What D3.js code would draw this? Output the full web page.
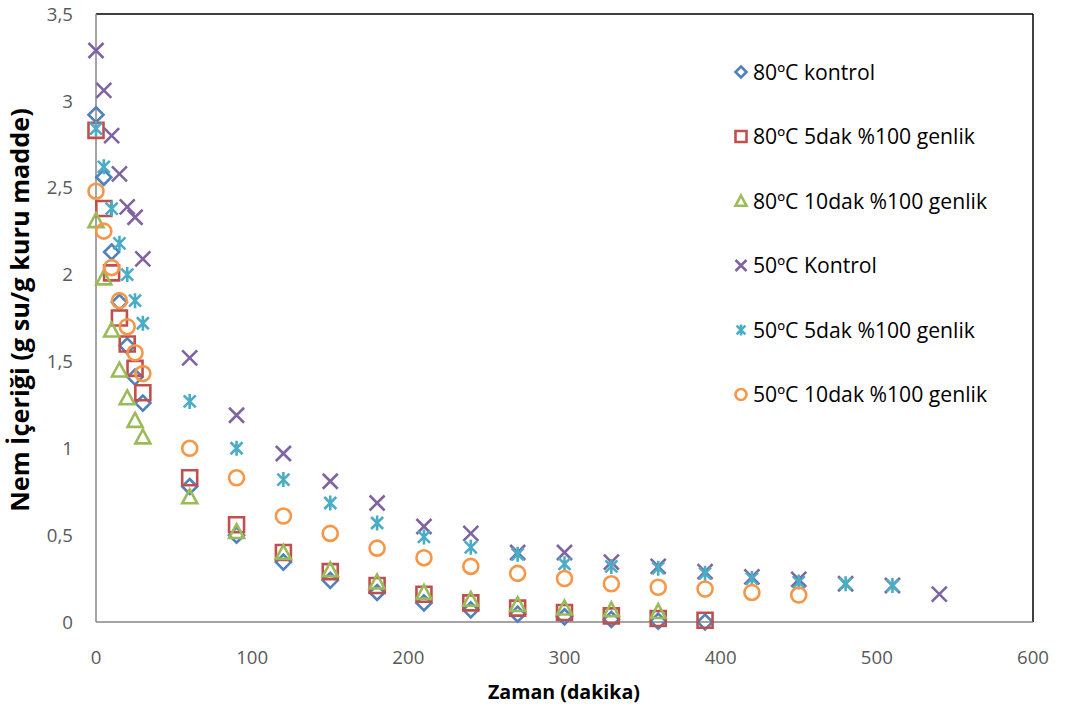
<!DOCTYPE html>
<html><head><meta charset="utf-8">
<script src="https://cdn.jsdelivr.net/npm/d3@7/dist/d3.min.js"></script>
<style>body{margin:0;background:#fff}svg{display:block}</style>
</head><body>
<svg id="c" width="1065" height="708"></svg>
<script>
const xTicks = [0,100,200,300,400,500,600];
const yTicks = [0,0.5,1,1.5,2,2.5,3,3.5];

const t80 = [0,5,10,15,20,25,30,60,90,120,150,180,210,240,270,300,330,360,390];
const t80b = [0,5,10,15,20,25,30,60,90,120,150,180,210,240,270,300,330,360];
const t50a = [0,5,10,15,20,25,30,60,90,120,150,180,210,240,270,300,330,360,390,420,450,480,510,540];
const t50b = [0,5,10,15,20,25,30,60,90,120,150,180,210,240,270,300,330,360,390,420,450,480,510];
const t50c = [0,5,10,15,20,25,30,60,90,120,150,180,210,240,270,300,330,360,390,420,450];

const v80kontrol = [2.92,2.56,2.13,1.84,1.59,1.41,1.26,0.78,0.50,0.345,0.24,0.17,0.11,0.07,0.045,0.03,0.015,0.005,0.0];
const v80_5dak   = [2.83,2.38,2.01,1.75,1.60,1.46,1.32,0.83,0.56,0.40,0.29,0.21,0.16,0.11,0.08,0.055,0.035,0.02,0.01];
const v80_10dak  = [2.31,1.98,1.68,1.45,1.29,1.16,1.065,0.72,0.52,0.40,0.30,0.23,0.17,0.13,0.10,0.08,0.07,0.06];
const v50kontrol = [3.29,3.06,2.80,2.58,2.39,2.33,2.09,1.52,1.19,0.97,0.81,0.685,0.55,0.51,0.40,0.40,0.345,0.32,0.29,0.26,0.245,0.22,0.21,0.16];
const v50_5dak   = [2.84,2.62,2.38,2.18,2.00,1.85,1.72,1.27,1.00,0.82,0.685,0.57,0.49,0.43,0.39,0.335,0.32,0.31,0.28,0.25,0.23,0.22,0.21];
const v50_10dak  = [2.48,2.25,2.04,1.85,1.70,1.55,1.43,1.00,0.83,0.61,0.51,0.425,0.37,0.32,0.28,0.25,0.22,0.20,0.19,0.17,0.155];

const seriesNames = ["80ºC kontrol","80ºC 5dak %100 genlik","80ºC 10dak %100 genlik","50ºC Kontrol","50ºC 5dak %100 genlik","50ºC 10dak %100 genlik"];
const seriesColors = ["#4F81BD","#C0504D","#9BBB59","#8064A2","#4BACC6","#F79646"];
const seriesShapes = ["diamond","square","triangle","x","star","circle"];
const seriesTimes = [t80,t80,t80b,t50a,t50b,t50c];
const seriesValues = [v80kontrol,v80_5dak,v80_10dak,v50kontrol,v50_5dak,v50_10dak];

const svg = d3.select("#c");
const L=96, R=1033, T=14, B=622;
const x = d3.scaleLinear().domain([0,600]).range([L,R]);
const y = d3.scaleLinear().domain([0,3.5]).range([B,T]);
const FONT = "'Open Sans', Lato, sans-serif";

// size a font so a reference string measures a target width
function fitSize(str, target, weight){
  const t = svg.append("text").attr("font-family",FONT).attr("font-size",100)
    .attr("font-weight",weight||"normal").text(str);
  const w = t.node().getComputedTextLength();
  t.remove();
  return 100*target/w;
}
const tickSize = fitSize("100",32);
const legendSize = fitSize("80ºC 5dak %100 genlik",222);
const xTitleSize = fitSize("Zaman (dakika)",152,"bold");
const yTitleSize = fitSize("Nem İçeriği (g su/g kuru madde)",404,"bold");

function shapePath(shape, s){
  const h=s/2;
  switch(shape){
    case "diamond": return `M0,${-h}L${h},0L0,${h}L${-h},0Z`;
    case "square": return `M${-h},${-h}H${h}V${h}H${-h}Z`;
    case "triangle": return `M0,${-h}L${h},${h*0.85}L${-h},${h*0.85}Z`;
    case "x": return `M${-h},${-h}L${h},${h}M${h},${-h}L${-h},${h}`;
    case "star": return `M${-h*0.8},${-h*0.8}L${h*0.8},${h*0.8}M${h*0.8},${-h*0.8}L${-h*0.8},${h*0.8}M0,${-h}V${h}`;
    case "circle": {const p=d3.path();p.arc(0,0,h,0,2*Math.PI);return p.toString();}
  }
}

// frame
svg.append("line").attr("x1",L).attr("x2",R).attr("y1",T).attr("y2",T).attr("stroke","#000").attr("stroke-width",1.5);
svg.append("line").attr("x1",R).attr("x2",R).attr("y1",T).attr("y2",B).attr("stroke","#000").attr("stroke-width",1.5);
svg.append("line").attr("x1",L).attr("x2",L).attr("y1",T).attr("y2",B).attr("stroke","#868686").attr("stroke-width",1.5);
svg.append("line").attr("x1",L).attr("x2",R).attr("y1",B).attr("y2",B).attr("stroke","#868686").attr("stroke-width",1.5);

// tick labels
svg.append("g").selectAll("text").data(yTicks).join("text")
  .attr("x",L-23).attr("y",d=>y(d)).attr("dy","0.36em").attr("text-anchor","end")
  .attr("font-family",FONT).attr("font-size",tickSize).attr("fill","#595959")
  .text(d=>String(d).replace(".",","));
svg.append("g").selectAll("text").data(xTicks).join("text")
  .attr("x",d=>x(d)).attr("y",B+42).attr("text-anchor","middle")
  .attr("font-family",FONT).attr("font-size",tickSize).attr("fill","#595959")
  .text(d=>d);

// axis titles
svg.append("text").attr("x",564).attr("y",699).attr("text-anchor","middle")
  .attr("font-family",FONT).attr("font-weight","bold").attr("font-size",xTitleSize).attr("fill","#000")
  .text("Zaman (dakika)");
svg.append("text").attr("transform",`translate(29,310) rotate(-90)`).attr("text-anchor","middle")
  .attr("font-family",FONT).attr("font-weight","bold").attr("font-size",yTitleSize).attr("fill","#000")
  .text("Nem İçeriği (g su/g kuru madde)");

// points
seriesNames.forEach((name,i)=>{
  const data = seriesTimes[i].map((t,j)=>({t, v: seriesValues[i][j]}));
  svg.append("g").selectAll("path").data(data).join("path")
    .attr("transform",d=>`translate(${x(d.t)},${y(d.v)})`)
    .attr("d",shapePath(seriesShapes[i],15))
    .attr("fill","none").attr("stroke",seriesColors[i]).attr("stroke-width",2.6);
});

// legend
const lg = svg.append("g");
seriesNames.forEach((name,i)=>{
  const ly = 72 + i*64.5;
  lg.append("path").attr("transform",`translate(741,${ly})`).attr("d",shapePath(seriesShapes[i],11))
    .attr("fill","none").attr("stroke",seriesColors[i]).attr("stroke-width",2.6);
  lg.append("text").attr("x",753).attr("y",ly).attr("dy","0.36em")
    .attr("font-family",FONT).attr("font-size",legendSize).attr("fill","#000").text(name);
});
</script>
</body></html>
